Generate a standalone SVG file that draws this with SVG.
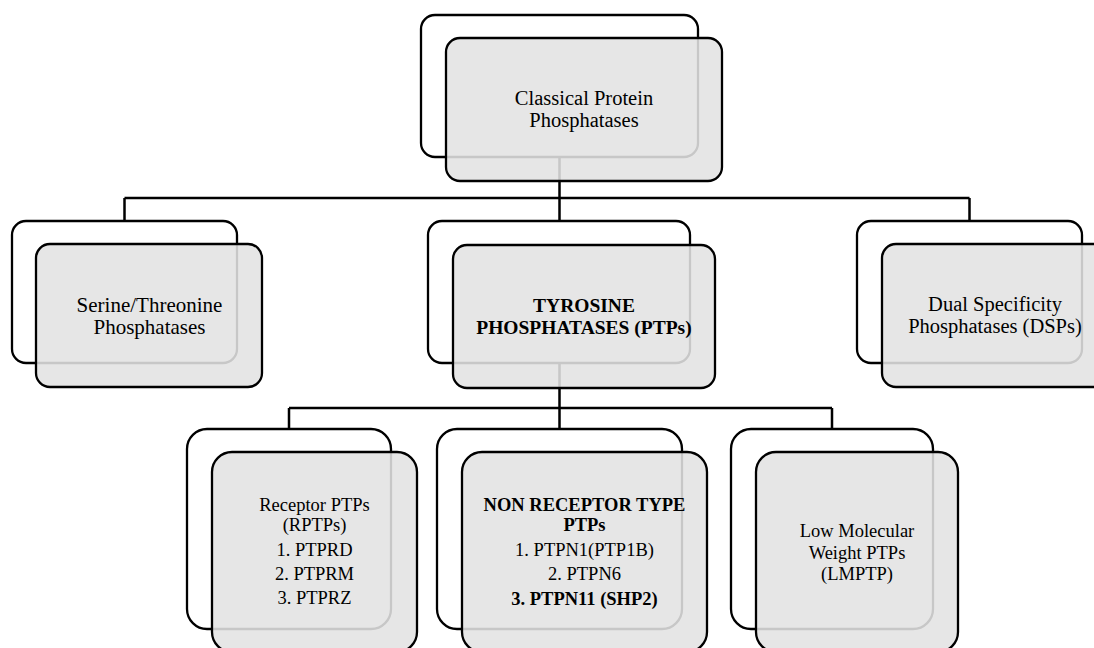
<svg xmlns="http://www.w3.org/2000/svg" width="1094" height="648" viewBox="0 0 1094 648">
<style>
.back{fill:#ffffff;stroke:#000000;stroke-width:2.3}
.front{fill:#e2e2e2;fill-opacity:0.88;stroke:#000000;stroke-width:2.3}
.conn{stroke:#000000;stroke-width:2.5;fill:none}
text{font-family:"Liberation Serif","Times New Roman",serif;fill:#000000;text-anchor:middle}
.t1{font-size:20.5px}
.t1s{font-size:21px}
.tb{font-size:19.5px;font-weight:bold}
.t2{font-size:18.5px}
.b{font-weight:bold}
</style>
<rect width="1094" height="648" fill="#ffffff"/>
<g id="connectors">
<path class="conn" d="M559.5,150 V198 M124.5,198 H969.5 M124.5,198 V225 M559.5,198 V225 M969.5,198 V225"/>
<path class="conn" d="M559.5,360 V408 M289,408 H832 M289,408 V433 M559.5,408 V433 M832,408 V433"/>
</g>
<g id="node-classical">
<rect class="back" x="421" y="15" width="277" height="142" rx="14"/>
<rect class="front" x="446" y="38" width="276" height="143" rx="14"/>
<text class="t1" x="584" y="105">Classical Protein</text>
<text class="t1" x="584" y="127">Phosphatases</text>
</g>
<g id="node-serine">
<rect class="back" x="12" y="221" width="225" height="142" rx="14"/>
<rect class="front" x="36" y="244" width="226" height="143" rx="14"/>
<text class="t1s" x="149.5" y="312">Serine/Threonine</text>
<text class="t1s" x="149.5" y="334">Phosphatases</text>
</g>
<g id="node-tyrosine">
<rect class="back" x="428" y="221" width="262" height="142" rx="14"/>
<rect class="front" x="453" y="245" width="262" height="143" rx="14"/>
<text class="tb" x="584" y="312">TYROSINE</text>
<text class="tb" x="584" y="334">PHOSPHATASES (PTPs)</text>
</g>
<g id="node-dual">
<rect class="back" x="857" y="221" width="225" height="142" rx="14"/>
<rect class="front" x="882" y="244" width="226" height="143" rx="14"/>
<text class="t1" x="995" y="311">Dual Specificity</text>
<text class="t1" x="995" y="333">Phosphatases (DSPs)</text>
</g>
<g id="node-receptor">
<rect class="back" x="187" y="429" width="204" height="200" rx="20"/>
<rect class="front" x="212" y="452" width="205" height="200" rx="20"/>
<text class="t2" x="314.5" y="511">Receptor PTPs</text>
<text class="t2" x="314.5" y="531">(RPTPs)</text>
<text class="t2" x="314.5" y="556">1. PTPRD</text>
<text class="t2" x="314.5" y="580">2. PTPRM</text>
<text class="t2" x="314.5" y="604">3. PTPRZ</text>
</g>
<g id="node-nonreceptor">
<rect class="back" x="437" y="429" width="245" height="200" rx="20"/>
<rect class="front" x="462" y="452" width="245" height="200" rx="20"/>
<text class="t2 b" x="584.5" y="511">NON RECEPTOR TYPE</text>
<text class="t2 b" x="584.5" y="531">PTPs</text>
<text class="t2" x="584.5" y="556">1. PTPN1(PTP1B)</text>
<text class="t2" x="584.5" y="580">2. PTPN6</text>
<text class="t2 b" x="584.5" y="605">3. PTPN11 (SHP2)</text>
</g>
<g id="node-lmptp">
<rect class="back" x="731" y="429" width="202" height="200" rx="20"/>
<rect class="front" x="756" y="452" width="202" height="200" rx="20"/>
<text class="t2" x="857" y="537">Low Molecular</text>
<text class="t2" x="857" y="558.5">Weight PTPs</text>
<text class="t2" x="857" y="580">(LMPTP)</text>
</g>
</svg>
